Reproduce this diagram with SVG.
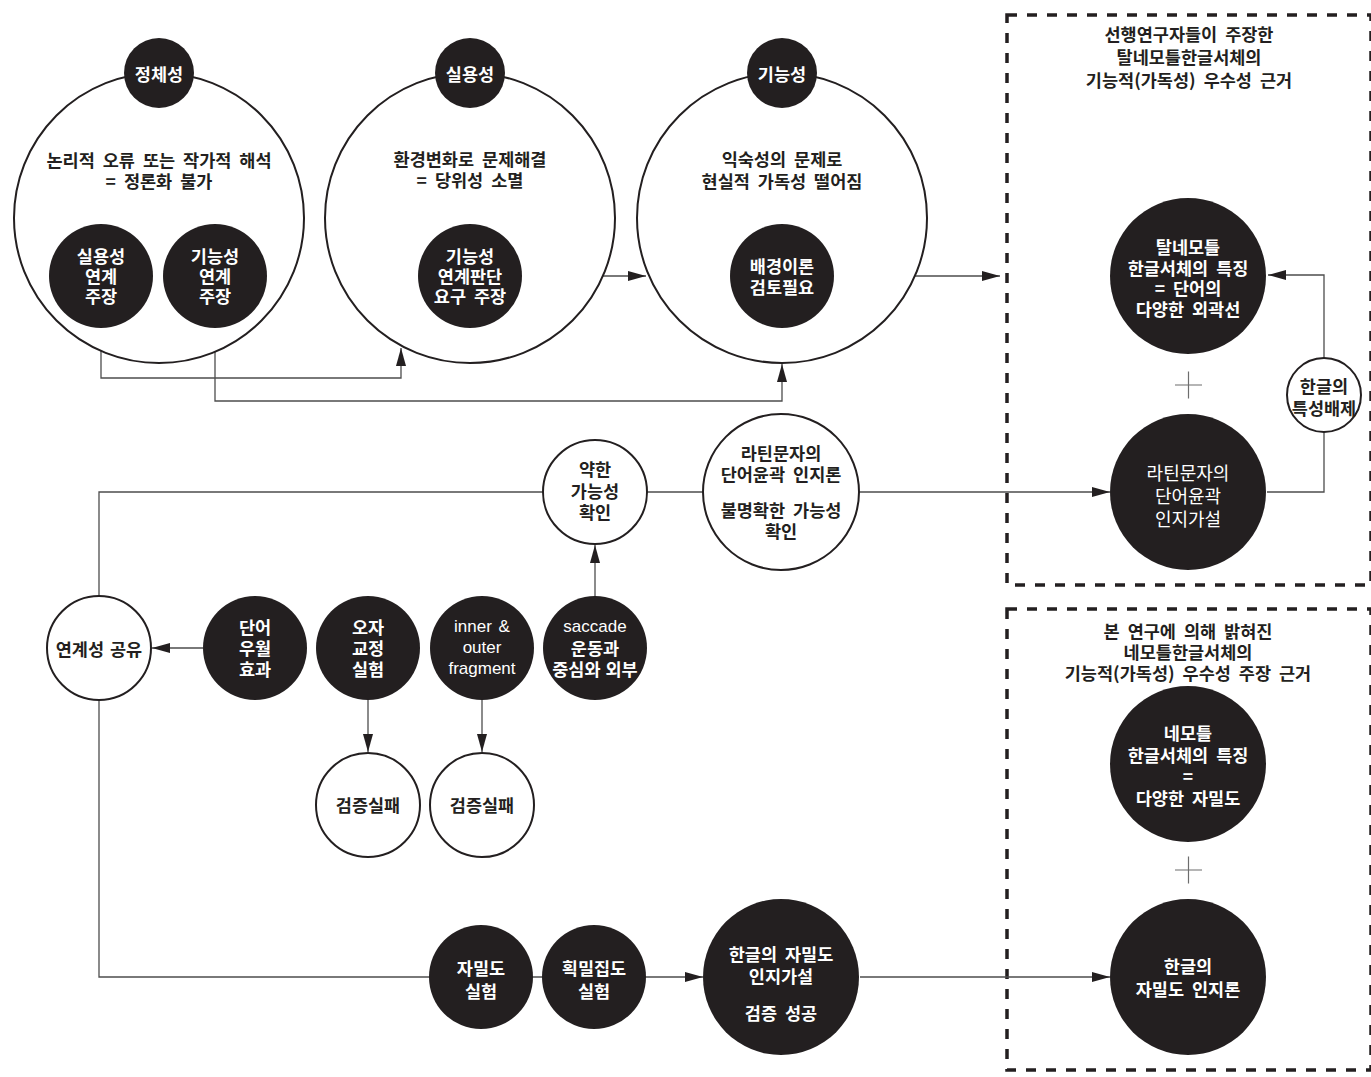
<svg xmlns="http://www.w3.org/2000/svg" width="1371" height="1077" viewBox="0 0 1371 1077">
  <defs>
    <style>
      .ring { fill: #fff; stroke: #231f20; stroke-width: 2; }
      .dot { fill: #231f20; }
      .conn { fill: none; stroke: #4d4d4d; stroke-width: 1.3; }
      .plus { fill: none; stroke: #6d6d6d; stroke-width: 1.2; }
      .box { fill: none; stroke: #231f20; stroke-width: 3.5; stroke-dasharray: 10 10; }
      text { font-family: "Noto Sans CJK KR", "Noto Sans", sans-serif; font-size: 17.5px; font-weight: 700; word-spacing: 4px; text-anchor: middle; dominant-baseline: central; }
      .w { fill: #fff; }
      .k { fill: #231f20; }
      .reg { font-weight: 400; font-size: 18px; }
      .lat { font-family: "Liberation Sans", "Noto Sans CJK KR", sans-serif; font-weight: 400; font-size: 17px; word-spacing: 2px; }
    </style>
    <marker id="arrow" markerUnits="userSpaceOnUse" markerWidth="19" markerHeight="11" refX="18" refY="5" orient="auto">
      <path d="M0,0 L18,5 L0,10 Z" fill="#231f20"/>
    </marker>
  </defs>

  <rect width="1371" height="1077" fill="#fff"/>

  <!-- dashed frames -->
  <g id="frames">
    <rect class="box" x="1007" y="15" width="364" height="570"/>
    <rect class="box" x="1007" y="609" width="364" height="461"/>
  </g>

  <!-- connectors -->
  <g id="connectors">
    <path class="conn" d="M101,327 V378 H401 V348" marker-end="url(#arrow)"/>
    <path class="conn" d="M215,327 V401 H782 V364" marker-end="url(#arrow)"/>
    <path class="conn" d="M522,276 H646" marker-end="url(#arrow)"/>
    <path class="conn" d="M834,276 H1000" marker-end="url(#arrow)"/>
    <path class="conn" d="M1267,492 H1324 V275 H1268" marker-end="url(#arrow)"/>
    <path class="conn" d="M99,597 V492 H1110" marker-end="url(#arrow)"/>
    <path class="conn" d="M595,597 V545" marker-end="url(#arrow)"/>
    <path class="conn" d="M203,648 H152" marker-end="url(#arrow)"/>
    <path class="conn" d="M368,700 V752" marker-end="url(#arrow)"/>
    <path class="conn" d="M482,700 V752" marker-end="url(#arrow)"/>
    <path class="conn" d="M99,700 V977 H703" marker-end="url(#arrow)"/>
    <path class="conn" d="M860,977 H1110" marker-end="url(#arrow)"/>
  </g>

  <!-- plus signs -->
  <g id="plus-signs">
    <path class="plus" d="M1175,385 H1202 M1188.5,371.5 V398.5"/>
    <path class="plus" d="M1175,870 H1202 M1188.5,856.5 V883.5"/>
  </g>

  <!-- top row -->
  <g id="identity">
    <circle class="ring" cx="159" cy="218" r="145"/>
    <circle class="dot" cx="159" cy="73" r="35"/>
    <text class="w" x="159" y="73">정체성</text>
    <text class="k" x="159" y="159">논리적 오류 또는 작가적 해석</text>
    <text class="k" x="159" y="180">= 정론화 불가</text>
  </g>
  <g id="identity-practical">
    <circle class="dot" cx="101" cy="276" r="52"/>
    <text class="w" x="101" y="255">실용성</text>
    <text class="w" x="101" y="275">연계</text>
    <text class="w" x="101" y="295">주장</text>
  </g>
  <g id="identity-functional">
    <circle class="dot" cx="215" cy="276" r="52"/>
    <text class="w" x="215" y="255">기능성</text>
    <text class="w" x="215" y="275">연계</text>
    <text class="w" x="215" y="295">주장</text>
  </g>

  <g id="practicality">
    <circle class="ring" cx="470" cy="218" r="145"/>
    <circle class="dot" cx="470" cy="73" r="35"/>
    <text class="w" x="470" y="73">실용성</text>
    <text class="k" x="470" y="158">환경변화로 문제해결</text>
    <text class="k" x="470" y="179">= 당위성 소멸</text>
  </g>
  <g id="practicality-claim">
    <circle class="dot" cx="470" cy="276" r="52"/>
    <text class="w" x="470" y="255">기능성</text>
    <text class="w" x="470" y="275">연계판단</text>
    <text class="w" x="470" y="295">요구 주장</text>
  </g>

  <g id="functionality">
    <circle class="ring" cx="782" cy="218" r="145"/>
    <circle class="dot" cx="782" cy="73" r="35"/>
    <text class="w" x="782" y="73">기능성</text>
    <text class="k" x="782" y="158">익숙성의 문제로</text>
    <text class="k" x="782" y="180">현실적 가독성 떨어짐</text>
  </g>
  <g id="functionality-review">
    <circle class="dot" cx="782" cy="276" r="52"/>
    <text class="w" x="782" y="265">배경이론</text>
    <text class="w" x="782" y="286">검토필요</text>
  </g>

  <!-- prior research frame -->
  <g id="prior-title">
    <text class="k" x="1189" y="33">선행연구자들이 주장한</text>
    <text class="k" x="1189" y="56">탈네모틀한글서체의</text>
    <text class="k" x="1189" y="79">기능적(가독성) 우수성 근거</text>
  </g>
  <g id="prior-feature">
    <circle class="dot" cx="1188" cy="276" r="78"/>
    <text class="w" x="1188" y="246">탈네모틀</text>
    <text class="w" x="1188" y="267">한글서체의 특징</text>
    <text class="w" x="1188" y="287">= 단어의</text>
    <text class="w" x="1188" y="308">다양한 외곽선</text>
  </g>
  <g id="prior-hypothesis">
    <circle class="dot" cx="1188" cy="492" r="78"/>
    <text class="w reg" x="1188" y="472">라틴문자의</text>
    <text class="w reg" x="1188" y="495">단어윤곽</text>
    <text class="w reg" x="1188" y="518">인지가설</text>
  </g>
  <g id="exclusion">
    <circle class="ring" cx="1324" cy="395" r="37"/>
    <text class="k" x="1324" y="385">한글의</text>
    <text class="k" x="1324" y="407">특성배제</text>
  </g>

  <!-- middle row -->
  <g id="weak-possibility">
    <circle class="ring" cx="595" cy="492" r="52"/>
    <text class="k" x="595" y="468">약한</text>
    <text class="k" x="595" y="490">가능성</text>
    <text class="k" x="595" y="511">확인</text>
  </g>
  <g id="latin-theory">
    <circle class="ring" cx="781" cy="492" r="78"/>
    <text class="k" x="781" y="452">라틴문자의</text>
    <text class="k" x="781" y="473">단어윤곽 인지론</text>
    <text class="k" x="781" y="509">불명확한 가능성</text>
    <text class="k" x="781" y="530">확인</text>
  </g>
  <g id="shared-link">
    <circle class="ring" cx="99" cy="648" r="52"/>
    <text class="k" x="99" y="648" style="word-spacing:2px">연계성 공유</text>
  </g>
  <g id="word-superiority">
    <circle class="dot" cx="255" cy="648" r="52"/>
    <text class="w" x="255" y="626">단어</text>
    <text class="w" x="255" y="647">우월</text>
    <text class="w" x="255" y="668">효과</text>
  </g>
  <g id="typo-experiment">
    <circle class="dot" cx="368" cy="648" r="52"/>
    <text class="w" x="368" y="626">오자</text>
    <text class="w" x="368" y="647">교정</text>
    <text class="w" x="368" y="668">실험</text>
  </g>
  <g id="fragment">
    <circle class="dot" cx="482" cy="648" r="52"/>
    <text class="w lat" x="482" y="626">inner &amp;</text>
    <text class="w lat" x="482" y="647">outer</text>
    <text class="w lat" x="482" y="668">fragment</text>
  </g>
  <g id="saccade">
    <circle class="dot" cx="595" cy="648" r="52"/>
    <text class="w lat" x="595" y="626">saccade</text>
    <text class="w" x="595" y="647">운동과</text>
    <text class="w" x="595" y="668" style="word-spacing:1px">중심와 외부</text>
  </g>
  <g id="fail-typo">
    <circle class="ring" cx="368" cy="805" r="52"/>
    <text class="k" x="368" y="804">검증실패</text>
  </g>
  <g id="fail-fragment">
    <circle class="ring" cx="482" cy="805" r="52"/>
    <text class="k" x="482" y="804">검증실패</text>
  </g>

  <!-- bottom row -->
  <g id="density-experiment">
    <circle class="dot" cx="481" cy="977" r="52"/>
    <text class="w" x="481" y="967">자밀도</text>
    <text class="w" x="481" y="990">실험</text>
  </g>
  <g id="stroke-density-experiment">
    <circle class="dot" cx="594" cy="977" r="52"/>
    <text class="w" x="594" y="967">획밀집도</text>
    <text class="w" x="594" y="990">실험</text>
  </g>
  <g id="density-hypothesis">
    <circle class="dot" cx="781" cy="977" r="78"/>
    <text class="w" x="781" y="953">한글의 자밀도</text>
    <text class="w" x="781" y="975">인지가설</text>
    <text class="w" x="781" y="1012">검증 성공</text>
  </g>

  <!-- present study frame -->
  <g id="study-title">
    <text class="k" x="1188" y="630">본 연구에 의해 밝혀진</text>
    <text class="k" x="1188" y="651">네모틀한글서체의</text>
    <text class="k" x="1188" y="672">기능적(가독성) 우수성 주장 근거</text>
  </g>
  <g id="study-feature">
    <circle class="dot" cx="1188" cy="764" r="78"/>
    <text class="w" x="1188" y="732">네모틀</text>
    <text class="w" x="1188" y="754">한글서체의 특징</text>
    <text class="w" x="1188" y="775">=</text>
    <text class="w" x="1188" y="797">다양한 자밀도</text>
  </g>
  <g id="study-theory">
    <circle class="dot" cx="1188" cy="977" r="78"/>
    <text class="w" x="1188" y="965">한글의</text>
    <text class="w" x="1188" y="988">자밀도 인지론</text>
  </g>
</svg>
